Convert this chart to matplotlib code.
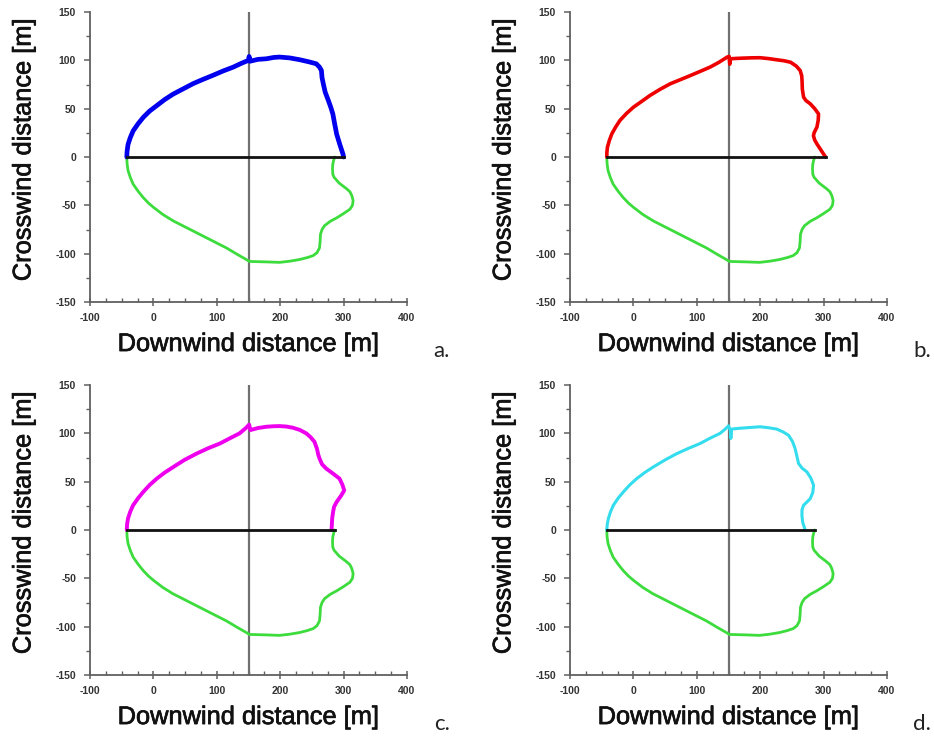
import numpy as np
import matplotlib
matplotlib.use('Agg')
import matplotlib.pyplot as plt
import matplotlib.patheffects as pe
from matplotlib.ticker import MultipleLocator

plt.rcParams['font.family'] = ['Liberation Sans', 'DejaVu Sans']
plt.rcParams['axes.unicode_minus'] = False

# lower half (same in every panel)
green_x = [-42, -41.5, -40, -36.5, -32, -24, -16, -8, 0, 15, 31, 52, 73, 94, 115, 133, 149, 151, 165, 178,
           199, 215, 231, 243, 252, 258, 262, 263, 263.5, 266, 270, 279, 289, 300, 310, 314, 315, 313, 310,
           305, 299, 293, 289, 285, 283, 282.5, 283, 284.5, 286]
green_y = [0, -7, -14, -21, -28, -35.5, -42, -47.5, -52, -59.5, -66, -73, -80, -87, -94, -101, -107, -108, -108.3, -108.5,
           -109, -107.8, -106, -104, -102, -99, -94, -87, -80, -75, -71, -66.5, -63, -58.5, -54, -50, -45, -40, -36,
           -33, -30, -27, -24, -21, -18, -12, -7, -3, 0]

# upper halves
a_x = [-42, -41.5, -40, -36.5, -32, -24, -16, -6, 5, 18, 31, 47, 63, 79, 94, 110, 126, 139, 150, 151, 152,
       165, 178, 190, 199, 215, 231, 245, 257, 262, 265, 266, 268, 271, 276, 280, 283, 286, 289, 294, 299, 300]
a_y = [0, 6, 13, 20, 27, 34.5, 41, 47.5, 53, 59.5, 65, 70.5, 76, 80.5, 84.5, 89, 93, 97, 100, 104, 99,
       101, 101.6, 103, 103.4, 102.5, 100.6, 98.5, 96.4, 93, 89.5, 82, 75.7, 67, 58.4, 51, 44.6, 34, 23.8, 13, 3, 0]

b_x = [-42, -41.8, -41, -38, -34, -28, -21, -11, 0, 13, 26, 42, 58, 74, 90, 105, 121, 135, 148, 151, 152, 152.6,
       163, 174, 187, 200, 213, 226, 238, 248, 257, 263, 265.5, 266, 266.5, 268.4, 272, 279, 286, 292, 291.5,
       289.5, 285, 284, 286, 289.5, 296, 303]
b_y = [0, 5, 10, 17, 24, 31, 38, 45, 51.5, 57.5, 63.6, 70, 75.7, 80, 84.3, 88.5, 93, 98, 103.4, 104, 96, 101.6,
       102, 102.3, 102.6, 102.7, 101.8, 100.6, 99.5, 98, 94, 89.5, 84, 79, 70, 62, 58.5, 55, 50, 44.6, 38,
       31, 25, 22, 17.5, 13.5, 7, 0]

c_x = [-42, -41.5, -40, -36.5, -32, -24, -16, -6, 5, 18, 31, 49, 68, 86, 105, 121, 136, 145, 151, 153,
       165, 178, 189, 199, 210, 220, 231, 241, 248, 254, 258, 260, 262, 266, 272.5, 283, 293.5, 298, 301,
       296, 289, 285, 283.4, 282, 281.5, 281]
c_y = [0, 6, 12, 19, 25.6, 33, 39.4, 46.5, 53, 59.5, 65, 72.5, 79, 84.5, 89.5, 95, 100, 105, 109, 103.4,
       105.5, 106.8, 107.3, 107.5, 107, 105.8, 103.5, 100, 96, 91.3, 84, 78, 74, 68, 63.6, 58.5, 53.2, 47, 41,
       35.5, 29, 24, 18.7, 12, 6, 0]

d_x = [-42, -41.2, -39.5, -36, -31.6, -24, -15.8, -6, 5.3, 18, 31.6, 50, 68.4, 87, 105.3, 121, 136.8, 145, 150,
       153, 153.7, 155, 167, 179, 200, 213, 226, 236, 244.7, 251, 255, 258, 260.5, 266, 273.7, 280, 284.2,
       283, 279, 273, 268.4, 266, 265.8, 267, 271]
d_y = [0, 6, 11.8, 19, 25.6, 33, 39.4, 46.5, 53.2, 59.5, 65.3, 72.5, 79, 84.5, 89.5, 95, 100, 104.5, 107.8,
       103, 94.7, 104.4, 105.2, 105.8, 106.8, 105.8, 104.4, 101.5, 98, 91.5, 84.3, 76, 68.8, 64, 60.1, 53.5, 46.3,
       39, 32.5, 28.5, 25.6, 21, 15.2, 8, 0]

panels = [
    ('a.', a_x, a_y, '#0000ee', 3.4, 300),
    ('b.', b_x, b_y, '#ee0000', 2.6, 303),
    ('c.', c_x, c_y, '#ee00ee', 2.8, 286),
    ('d.', d_x, d_y, '#33dded', 2.2, 287),
]

fig = plt.figure(figsize=(9.34, 7.44), dpi=100)

W, H = 934, 744
boxes = [(90, 12), (570, 12), (90, 385), (570, 385)]
aw, ah = 317, 290
thick = [pe.withStroke(linewidth=0.5, foreground='#111111')]

for (lab, ux, uy, col, lw, xend), (bx, by) in zip(panels, boxes):
    ax = fig.add_axes([bx / W, 1 - (by + ah) / H, aw / W, ah / H])
    ax.plot(green_x, green_y, color='#3ddc3d', lw=2.0, solid_capstyle='round',
            solid_joinstyle='round', zorder=3)
    ax.plot(ux, uy, color=col, lw=lw, solid_capstyle='round', solid_joinstyle='round', zorder=3)
    ax.plot([-42, xend], [0, 0], color='#111111', lw=2.0, zorder=4)
    ax.axvline(150, color='#707070', lw=1.6, zorder=2)

    ax.set_xlim(-100, 400)
    ax.set_ylim(-150, 150)
    ax.xaxis.set_major_locator(MultipleLocator(100))
    ax.xaxis.set_minor_locator(MultipleLocator(25))
    ax.yaxis.set_major_locator(MultipleLocator(50))
    ax.yaxis.set_minor_locator(MultipleLocator(25))
    for s in ['top', 'right']:
        ax.spines[s].set_visible(False)
    for s in ['left', 'bottom']:
        ax.spines[s].set_color('#606060')
        ax.spines[s].set_linewidth(1.3)
    ax.tick_params(axis='x', which='major', direction='inout', length=6, width=1.1,
                   color='#606060', labelsize=7.5, pad=5)
    ax.tick_params(axis='x', which='minor', direction='in', length=3, width=1.0, color='#606060')
    ax.tick_params(axis='y', which='major', direction='out', length=4, width=1.1,
                   color='#606060', labelsize=7.5, pad=6)
    ax.tick_params(axis='y', which='minor', direction='out', length=3, width=1.0, color='#606060')
    for t in ax.get_xticklabels() + ax.get_yticklabels():
        t.set_fontweight('bold')
        t.set_color('#333333')

    ax.text(0.5, -0.145, 'Downwind distance [m]', transform=ax.transAxes,
            ha='center', va='center', fontsize=18.3, color='#111111', path_effects=thick)
    ax.text(-0.21, 0.525, 'Crosswind distance [m]', transform=ax.transAxes,
            ha='center', va='center', rotation=90, fontsize=18.3, color='#111111', path_effects=thick)
    ax.text(1.11, -0.17, lab, transform=ax.transAxes, ha='center', va='center',
            fontsize=16, color='#222222', family=['Lato', 'DejaVu Sans'])

fig.savefig('out.png', dpi=100)
